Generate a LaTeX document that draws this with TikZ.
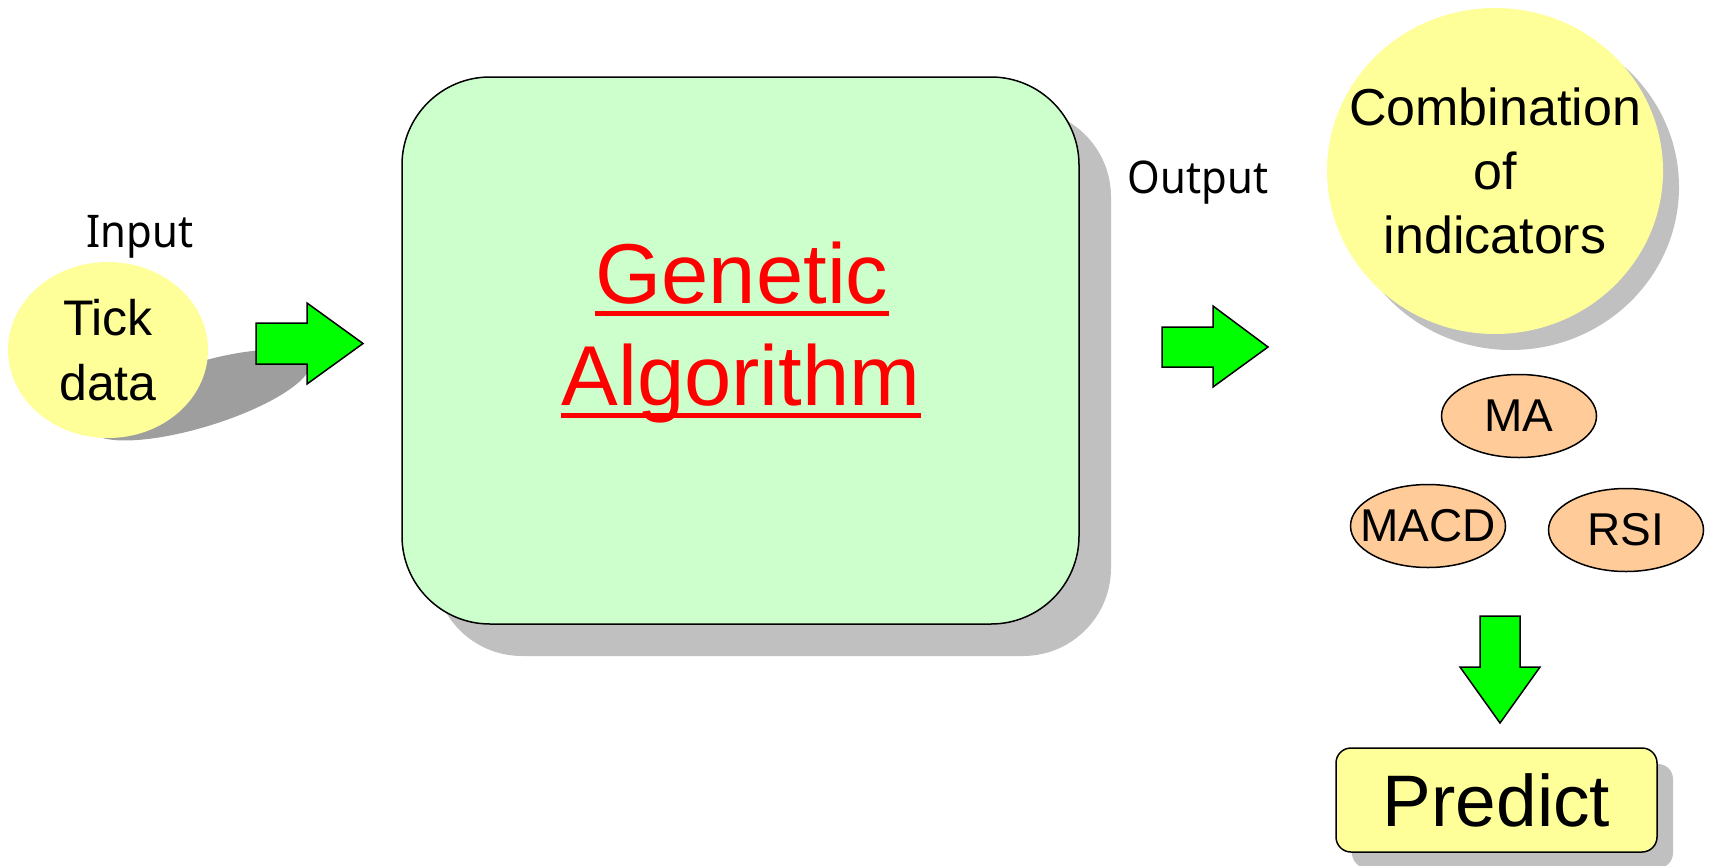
\documentclass[tikz,border=0pt]{standalone}
\usepackage{fontspec}
\setmainfont{Liberation Sans}
\newfontfamily\labelfont[FakeStretch=0.93]{Noto Sans}
\usetikzlibrary{shapes.geometric,shadows}

\definecolor{paleyellow}{HTML}{FFFF99}
\definecolor{palegreen}{HTML}{CCFFCC}
\definecolor{paleorange}{HTML}{FFCC99}
\definecolor{brightgreen}{HTML}{00FF00}
\definecolor{shadowgray}{HTML}{C0C0C0}
\definecolor{castgray}{HTML}{9E9E9E}
\definecolor{titlered}{HTML}{FF0000}

\tikzset{
  outline/.style={draw=black, line width=1.5pt},
  boxshadow/.style={drop shadow={shadow xshift=#1, shadow yshift=#1, fill=shadowgray, opacity=1}},
  indicator/.style={ellipse, outline, fill=paleorange, inner sep=0pt,
    minimum width=155, minimum height=83},
  labeltext/.style={inner sep=0pt, align=center},
  blockarrow/.style={fill=brightgreen, draw=black, line width=1.5pt, line join=miter},
  caption/.style={anchor=base, inner sep=0pt, font=\labelfont\fontsize{45}{50}\selectfont},
  redtitle/.style={anchor=base, inner sep=0pt, text=titlered, font=\fontsize{85}{100}\selectfont},
}

\begin{document}
\begin{tikzpicture}[x=1pt, y=-1pt]
\useasboundingbox (0,0) rectangle (1710,865);

% input: tick data with its cast shadow
\fill[castgray, rotate around={17:(200,395)}] (200,395) ellipse [x radius=115, y radius=32];
\node[ellipse, fill=paleyellow, inner sep=0pt, minimum width=200, minimum height=176] (tick) at (108,350) {};
\node[labeltext, font=\fontsize{50}{65}\selectfont] (ticktext) at (tick.center) {Tick\\data};
\node[caption] (input) at (140,247) {Input};

% arrow into the algorithm block
\draw[blockarrow] (256,323) -- (307,323) -- (307,303) -- (363,343.5) -- (307,384)
                  -- (307,364) -- (256,364) -- cycle;

% genetic algorithm block
\node[rectangle, rounded corners=88, outline, fill=palegreen, boxshadow=32,
      minimum width=677, minimum height=547, inner sep=0pt] (ga) at (740.5,350.5) {};
\node[redtitle] (gen) at (742,303) {Genetic};
\node[redtitle] (alg) at (741,405) {Algorithm};
\draw[titlered, line width=5pt] ([yshift=-10pt]gen.base west) -- ([yshift=-10pt]gen.base east);
\draw[titlered, line width=5pt] ([yshift=-10pt]alg.base west) -- ([yshift=-10pt]alg.base east);

% arrow out of the algorithm block
\node[caption] (output) at (1198,193) {Output};
\draw[blockarrow] (1162,327) -- (1213,327) -- (1213,306) -- (1268,347) -- (1213,387)
                  -- (1213,367) -- (1162,367) -- cycle;

% combination of indicators
\node[ellipse, fill=paleyellow, boxshadow=16, inner sep=0pt,
      minimum width=336, minimum height=326] (combo) at (1495,171) {};
\node[labeltext, font=\fontsize{52}{64}\selectfont] (combotext) at (combo.center)
      {Combination\\of\\indicators};

\node[indicator] (ma) at (1519,416) {};
\node[indicator] (macd) at (1428,526) {};
\node[indicator] (rsi) at (1626,530) {};
\node[labeltext, font=\fontsize{46}{50}\selectfont] (matext) at (ma.center) {MA};
\node[labeltext, font=\fontsize{46}{50}\selectfont] (macdtext) at (macd.center) {MACD};
\node[labeltext, font=\fontsize{46}{50}\selectfont] (rsitext) at (rsi.center) {RSI};

% arrow down to the prediction
\draw[blockarrow] (1480,616) -- (1520,616) -- (1520,667) -- (1540,667) -- (1500,723)
                  -- (1460,667) -- (1480,667) -- cycle;

\node[rectangle, rounded corners=15, outline, fill=paleyellow, boxshadow=16,
      minimum width=321, minimum height=104, inner sep=0pt,
      font=\fontsize{73}{80}\selectfont] (predict) at (1496.5,800) {Predict};
\end{tikzpicture}
\end{document}
